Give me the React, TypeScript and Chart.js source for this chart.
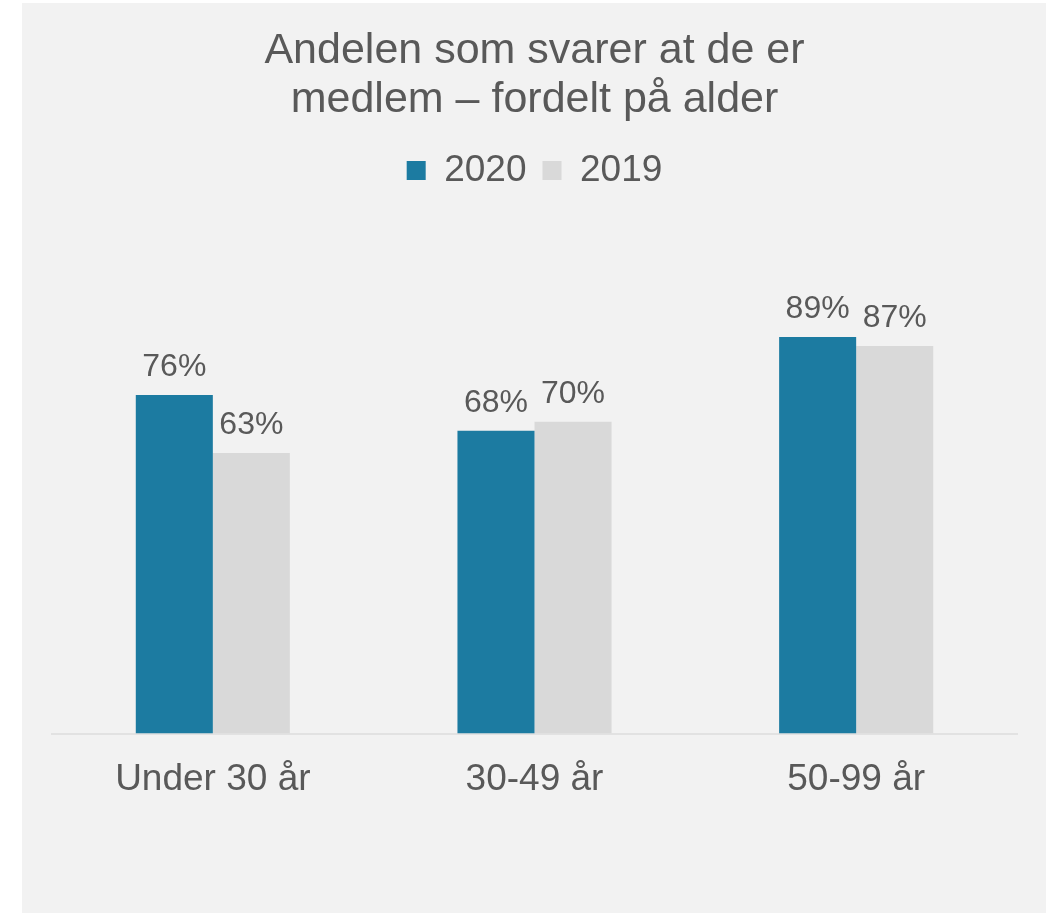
import React, { useEffect, useRef } from "react";
import { Chart, registerables } from "chart.js";

Chart.register(...registerables);

const categories = ["Under 30 år", "30-49 år", "50-99 år"];
const series2020 = [76, 68, 89];
const series2019 = [63, 70, 87];
const seriesLabels = ["2020", "2019"];
const titleLines = ["Andelen som svarer at de er", "medlem – fordelt på alder"];

const TEXT = "#595959";
const FONT = "'Liberation Sans', Arial, sans-serif";

const valueLabels = {
  id: "valueLabels",
  afterDatasetsDraw(chart: any) {
    const ctx = chart.ctx;
    ctx.save();
    ctx.font = `32px ${FONT}`;
    ctx.fillStyle = TEXT;
    ctx.textAlign = "center";
    ctx.textBaseline = "alphabetic";
    chart.data.datasets.forEach((ds: any, di: number) => {
      const meta = chart.getDatasetMeta(di);
      meta.data.forEach((el: any, i: number) => {
        ctx.fillText(`${ds.data[i]}%`, el.x, el.y - 19);
      });
    });
    ctx.restore();
  },
};

export default function App() {
  const ref = useRef<HTMLCanvasElement>(null);
  useEffect(() => {
    if (!ref.current) return;
    const chart = new Chart(ref.current, {
      type: "bar",
      data: {
        labels: categories,
        datasets: [
          {
            label: seriesLabels[0],
            data: series2020,
            backgroundColor: "#1c7ba1",
            borderWidth: 0,
            categoryPercentage: 0.479,
            barPercentage: 1,
          },
          {
            label: seriesLabels[1],
            data: series2019,
            backgroundColor: "#d9d9d9",
            borderWidth: 0,
            categoryPercentage: 0.479,
            barPercentage: 1,
          },
        ],
      },
      options: {
        responsive: false,
        animation: false,
        layout: { padding: { left: 30, right: 29, top: 0, bottom: 87 } },
        plugins: {
          tooltip: { enabled: false },
          title: {
            display: true,
            text: titleLines,
            color: TEXT,
            font: { family: FONT, size: 43, weight: "normal", lineHeight: 49 / 43 },
            padding: { top: 24, bottom: 11 },
          },
          legend: {
            display: true,
            position: "top",
            labels: {
              color: TEXT,
              font: { family: FONT, size: 37 },
              boxWidth: 19,
              boxHeight: 19,
              padding: 16,
            },
          },
        },
        scales: {
          x: {
            grid: { display: false, drawTicks: false },
            border: { display: true, color: "#e2e2e2", width: 2 },
            ticks: { color: TEXT, font: { family: FONT, size: 37 }, padding: 24 },
          },
          y: {
            display: false,
            min: 0,
            max: 120,
          },
        },
      },
      plugins: [valueLabels],
    });
    return () => chart.destroy();
  }, []);
  return (
    <div
      style={{
        position: "absolute",
        left: 22,
        top: 3,
        width: 1024,
        height: 910,
        background: "#f2f2f2",
      }}
    >
      <canvas ref={ref} width={1024} height={910} style={{ display: "block" }} />
    </div>
  );
}
